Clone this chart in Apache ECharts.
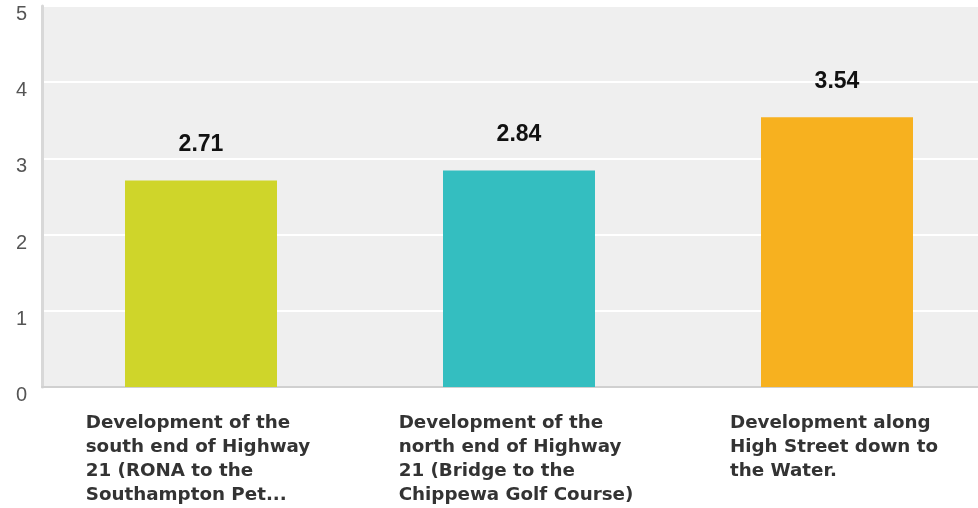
<!DOCTYPE html>
<html><head><meta charset="utf-8">
<script src="https://cdn.jsdelivr.net/npm/echarts@6/dist/echarts.min.js"></script>
<style>html,body{margin:0;padding:0;background:#fff}#c{width:978px;height:508px}</style>
</head><body><div id="c"></div>
<script>
const categories = [
  "Development of the\nsouth end of Highway\n21 (RONA to the\nSouthampton Pet...",
  "Development of the\nnorth end of Highway\n21 (Bridge to the\nChippewa Golf Course)",
  "Development along\nHigh Street down to\nthe Water."
];
const values = [2.71, 2.84, 3.54];
const barColors = ["#cfd52a", "#34bec0", "#f7b11f"];
const yTicks = [0, 1, 2, 3, 4, 5];

const chart = echarts.init(document.getElementById('c'), null, {renderer: 'canvas'});
chart.setOption({
  animation: false,
  grid: {left: 42, top: 6, width: 954, height: 381, containLabel: false, outerBoundsMode: 'none', show: true, backgroundColor: '#efefef', borderWidth: 0},
  xAxis: {
    type: 'category', data: categories,
    axisLine: {show: true, lineStyle: {color: '#d0d0d0', width: 2}},
    axisTick: {show: false},
    axisLabel: {
      margin: 24, interval: 0, align: 'center',
      formatter: v => v.split('\n').map(l => '{a|' + l + '}').join('\n'),
      rich: {a: {align: 'left', padding: [0, 6, 0, 0], fontFamily: 'DejaVu Sans, sans-serif', fontWeight: 'bold', fontSize: 18.3, lineHeight: 24, color: '#333'}}
    }
  },
  yAxis: {
    type: 'value', min: yTicks[0], max: yTicks[yTicks.length - 1], interval: 1,
    axisLine: {show: true, lineStyle: {color: '#d8d8d8', width: 3}},
    axisTick: {show: false},
    splitLine: {lineStyle: {color: '#ffffff', width: 2}},
    axisLabel: {margin: 15, verticalAlign: 'top', lineHeight: 17, fontFamily: 'Liberation Sans, Arial, sans-serif', fontSize: 20, color: '#555'}
  },
  series: [{
    type: 'bar', barWidth: 152,
    data: values.map((v, i) => ({value: v, itemStyle: {color: barColors[i]}})),
    label: {show: true, position: 'top', distance: 24, fontFamily: 'Liberation Sans, Arial, sans-serif', fontWeight: 'bold', fontSize: 23, color: '#111', formatter: p => p.value.toFixed(2)}
  }]
});
</script></body></html>
